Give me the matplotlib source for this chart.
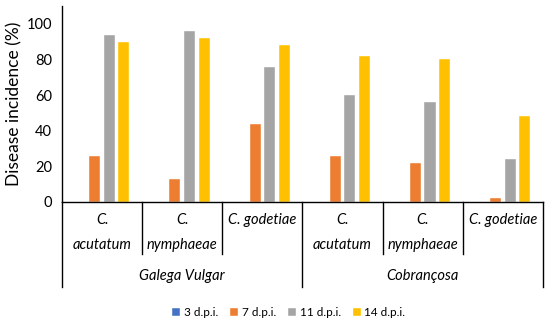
import numpy as np
import matplotlib.pyplot as plt
from matplotlib.transforms import blended_transform_factory

plt.rcParams['font.family'] = ['Lato', 'DejaVu Sans']

cultivars = ['Galega Vulgar', 'Cobrançosa']
species = ['C.\nacutatum', 'C.\nnymphaeae', 'C. godetiae',
           'C.\nacutatum', 'C.\nnymphaeae', 'C. godetiae']
series = ['3 d.p.i.', '7 d.p.i.', '11 d.p.i.', '14 d.p.i.']
colors = ['#4472C4', '#ED7D31', '#A5A5A5', '#FFC000']

dpi3 = [0, 0, 0, 0, 0, 0]
dpi7 = [26, 13, 44, 26, 22, 2]
dpi11 = [94, 96, 76, 60, 56, 24]
dpi14 = [90, 92, 88, 82, 80, 48]
values = [dpi3, dpi7, dpi11, dpi14]

fig = plt.figure(figsize=(5.5, 3.26), dpi=100)
ax = fig.add_axes([0.1127, 0.3804, 0.8745, 0.6012])

x = np.arange(len(species))
pitch = 0.182
width = 0.138
for i, (name, vals) in enumerate(zip(series, values)):
    ax.bar(x + (i - 1.5) * pitch, vals, width, color=colors[i], label=name,
           edgecolor='white', linewidth=0.3)

ax.set_xlim(-0.5, len(species) - 0.5)
ax.set_ylim(0, 110)
ax.set_yticks([0, 20, 40, 60, 80, 100])
ax.tick_params(axis='y', length=0, labelsize=10.5, pad=7)
ax.set_xticks([])
ax.set_ylabel('Disease incidence (%)', fontsize=12.5, labelpad=3)
for s in ['top', 'right']:
    ax.spines[s].set_visible(False)
ax.spines['left'].set_color('black')
ax.spines['bottom'].set_color('black')
ax.spines['left'].set_linewidth(1)
ax.spines['bottom'].set_linewidth(1)

# category labels and separators below the axis
tr = blended_transform_factory(ax.transData, ax.transAxes)
fs = 10.5
for i, lab in enumerate(species):
    if '\n' in lab:
        top, bot = lab.split('\n')
        ax.text(i, -0.092, top, transform=tr, ha='center', va='center',
                style='italic', fontsize=fs)
        ax.text(i, -0.219, bot, transform=tr, ha='center', va='center',
                style='italic', fontsize=fs)
    else:
        ax.text(i, -0.092, lab, transform=tr, ha='center', va='center',
                style='italic', fontsize=fs)

for b in np.arange(-0.5, len(species), 1.0):
    outer = b in (-0.5, 2.5, 5.5)
    ybot = -0.434 if outer else -0.265
    ax.plot([b, b], [0, ybot], transform=tr, color='black', lw=1,
            clip_on=False)

for j, cv in enumerate(cultivars):
    ax.text(1 + 3 * j, -0.378, cv, transform=tr, ha='center', va='center',
            style='italic', fontsize=fs)

fig.legend(loc='center', bbox_to_anchor=(0.525, 0.04), ncol=4, frameon=False,
           fontsize=8.5, handlelength=0.7, handleheight=0.7, handletextpad=0.3,
           columnspacing=1.0)

plt.savefig('out.png', dpi=100)
plt.close()
